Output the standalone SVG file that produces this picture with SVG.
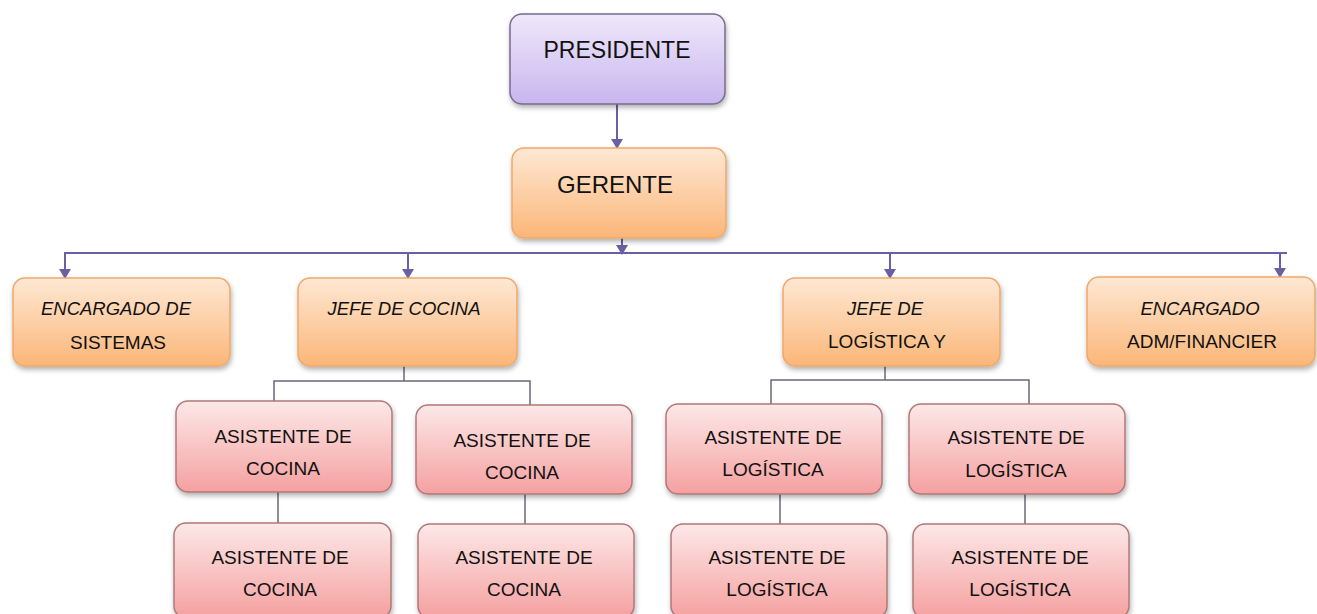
<svg xmlns="http://www.w3.org/2000/svg" width="1317" height="614" viewBox="0 0 1317 614">
<defs>
<linearGradient id="gPurple" x1="0" y1="0" x2="0" y2="1"><stop offset="0" stop-color="#efe8fa"/><stop offset="1" stop-color="#c8b6ee"/></linearGradient>
<linearGradient id="gOrange" x1="0" y1="0" x2="0" y2="1"><stop offset="0" stop-color="#fee8d4"/><stop offset="1" stop-color="#fbb678"/></linearGradient>
<linearGradient id="gPink" x1="0" y1="0" x2="0" y2="1"><stop offset="0" stop-color="#fde8e8"/><stop offset="1" stop-color="#f5a0a0"/></linearGradient>
<filter id="sh" x="-10%" y="-10%" width="125%" height="130%"><feDropShadow dx="1" dy="3" stdDeviation="2.5" flood-color="#000" flood-opacity="0.3"/></filter>
<marker id="arr" viewBox="0 0 10 12" refX="9" refY="6" markerWidth="10" markerHeight="12" markerUnits="userSpaceOnUse" orient="auto"><path d="M0,0 L10,6 L0,12 z" fill="#6b5fa3"/></marker>
</defs>
<style>
.p{fill:url(#gPurple);stroke:#7a6a90;stroke-width:1.5;filter:url(#sh)}
.o{fill:url(#gOrange);stroke:#f0a868;stroke-width:1.5;filter:url(#sh)}
.k{fill:url(#gPink);stroke:#b07878;stroke-width:1.5;filter:url(#sh)}
text{font-family:"Liberation Sans",Arial,sans-serif;fill:#111;text-anchor:middle}
.big{font-size:23px}
.g{font-size:24px}
.t{font-size:19px}
.i{font-size:18.5px;font-style:italic}
.c{fill:none;stroke:#6b5fa3;stroke-width:2}
.c2{fill:none;stroke:#6a6878;stroke-width:1.5}
</style>
<rect width="1317" height="614" fill="#fff"/>
<g id="connectors">
<line class="c" x1="617" y1="104" x2="617" y2="148" marker-end="url(#arr)"/>
<line class="c" x1="622" y1="238" x2="622" y2="254" marker-end="url(#arr)"/>
<line class="c" x1="64" y1="253" x2="1287" y2="253"/>
<line class="c" x1="65" y1="253" x2="65" y2="278" marker-end="url(#arr)"/>
<line class="c" x1="408" y1="253" x2="408" y2="278" marker-end="url(#arr)"/>
<line class="c" x1="890" y1="253" x2="890" y2="278" marker-end="url(#arr)"/>
<line class="c" x1="1280" y1="253" x2="1280" y2="277" marker-end="url(#arr)"/>
<polyline class="c2" points="404,366 404,381"/>
<polyline class="c2" points="274,402 274,381 530,381 530,406"/>
<polyline class="c2" points="885,366 885,380"/>
<polyline class="c2" points="771,404 771,380 1029,380 1029,404"/>
<line class="c2" x1="278" y1="492" x2="278" y2="523"/>
<line class="c2" x1="525" y1="494" x2="525" y2="524"/>
<line class="c2" x1="780" y1="494" x2="780" y2="524"/>
<line class="c2" x1="1025" y1="494" x2="1025" y2="524"/>
</g>
<g id="presidente"><rect class="p" x="510" y="14" width="215" height="90" rx="12"/><text class="big" x="617" y="58">PRESIDENTE</text></g>
<g id="gerente"><rect class="o" x="512" y="148" width="214" height="90" rx="12"/><text class="g" x="615" y="193">GERENTE</text></g>
<g id="enc-sistemas"><rect class="o" x="13" y="278" width="217" height="88" rx="12"/><text class="i" x="116" y="315">ENCARGADO DE</text><text class="t" x="118" y="349">SISTEMAS</text></g>
<g id="jefe-cocina"><rect class="o" x="298" y="278" width="219" height="88" rx="12"/><text class="i" x="404" y="315">JEFE DE COCINA</text></g>
<g id="jefe-logistica"><rect class="o" x="783" y="278" width="217" height="88" rx="12"/><text class="i" x="885" y="315">JEFE DE</text><text class="t" x="887" y="348">LOGÍSTICA Y</text></g>
<g id="enc-adm"><rect class="o" x="1087" y="277" width="228" height="89" rx="12"/><text class="i" x="1200" y="315">ENCARGADO</text><text class="t" x="1202" y="348">ADM/FINANCIER</text></g>
<g id="asis-cocina-1"><rect class="k" x="176" y="401" width="216" height="91" rx="12"/><text class="t" x="283" y="443">ASISTENTE DE</text><text class="t" x="283" y="475">COCINA</text></g>
<g id="asis-cocina-2"><rect class="k" x="416" y="405" width="216" height="89" rx="12"/><text class="t" x="522" y="447">ASISTENTE DE</text><text class="t" x="522" y="479">COCINA</text></g>
<g id="asis-cocina-3"><rect class="k" x="174" y="523" width="217" height="95" rx="12"/><text class="t" x="280" y="564">ASISTENTE DE</text><text class="t" x="280" y="596">COCINA</text></g>
<g id="asis-cocina-4"><rect class="k" x="418" y="524" width="216" height="94" rx="12"/><text class="t" x="524" y="564">ASISTENTE DE</text><text class="t" x="524" y="596">COCINA</text></g>
<g id="asis-log-1"><rect class="k" x="666" y="404" width="216" height="90" rx="12"/><text class="t" x="773" y="444">ASISTENTE DE</text><text class="t" x="773" y="476">LOGÍSTICA</text></g>
<g id="asis-log-2"><rect class="k" x="909" y="404" width="216" height="90" rx="12"/><text class="t" x="1016" y="444">ASISTENTE DE</text><text class="t" x="1016" y="477">LOGÍSTICA</text></g>
<g id="asis-log-3"><rect class="k" x="671" y="524" width="216" height="94" rx="12"/><text class="t" x="777" y="564">ASISTENTE DE</text><text class="t" x="777" y="596">LOGÍSTICA</text></g>
<g id="asis-log-4"><rect class="k" x="913" y="524" width="216" height="94" rx="12"/><text class="t" x="1020" y="564">ASISTENTE DE</text><text class="t" x="1020" y="596">LOGÍSTICA</text></g>
</svg>
